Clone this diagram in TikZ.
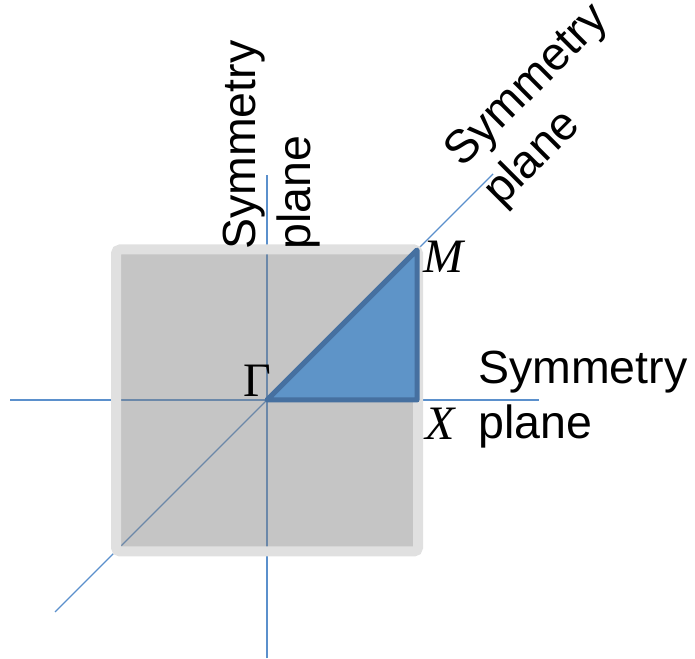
\documentclass[tikz,border=0pt]{standalone}
\usepackage{fontspec}
\setmainfont{Liberation Sans}
\newfontfamily\pointfont{Liberation Serif}
\usetikzlibrary{positioning}
\definecolor{planeblue}{RGB}{91,144,204}
\definecolor{wedgeblue}{RGB}{94,148,200}
\definecolor{wedgeedge}{RGB}{70,112,160}
\definecolor{zoneedge}{RGB}{224,224,224}
\tikzset{symline/.style={planeblue,line width=1.4pt},
  planelabel/.style={font=\fontsize{46.5}{55}\selectfont,align=left,inner sep=0pt},
  pointlabel/.style={font=\pointfont\fontsize{48}{48}\selectfont,inner sep=0pt}}

\begin{document}
\begin{tikzpicture}[x=1pt,y=1pt]
\useasboundingbox (0,0) rectangle (695,658);
\coordinate (G) at (267,258);
\coordinate (X) at (417,258);
\coordinate (M) at (417,408);
\coordinate (vtop) at (267,483);
\coordinate (vbot) at (267,0);
\coordinate (hleft) at (10,258);
\coordinate (hright) at (539,258);
\coordinate (dlow) at (55,46);
\coordinate (dhigh) at (493,484);
\draw[symline] (vbot) -- (vtop);
\draw[symline] (hleft) -- (hright);
\draw[symline] (dlow) -- (dhigh);
\draw[zoneedge,line width=10pt,rounded corners=4pt,fill=black!50,fill opacity=0.46] (116,106.5) rectangle (418,408.5);
\filldraw[fill=wedgeblue,draw=wedgeedge,line width=5pt,line join=round] (G) -- (X) -- (M) -- cycle;
\node[pointlabel,anchor=base east] (Glab) at ([xshift=4pt,yshift=3pt]G) {Γ};
\node[pointlabel,anchor=base west] (Mlab) at ([xshift=6pt,yshift=-23pt]M) {\itshape M};
\node[pointlabel,anchor=base west] (Xlab) at ([xshift=8pt,yshift=-40pt]X) {\itshape X};
\node[planelabel,anchor=north west] (hplane) at (478,307) {Symmetry\\plane};
\node[planelabel,anchor=north west,rotate=90] (vplane) at (223,408) {Symmetry\\plane};
\node[planelabel,anchor=north west,rotate=45] (dplane) at (439,512) {Symmetry\\plane};
\end{tikzpicture}
\end{document}
